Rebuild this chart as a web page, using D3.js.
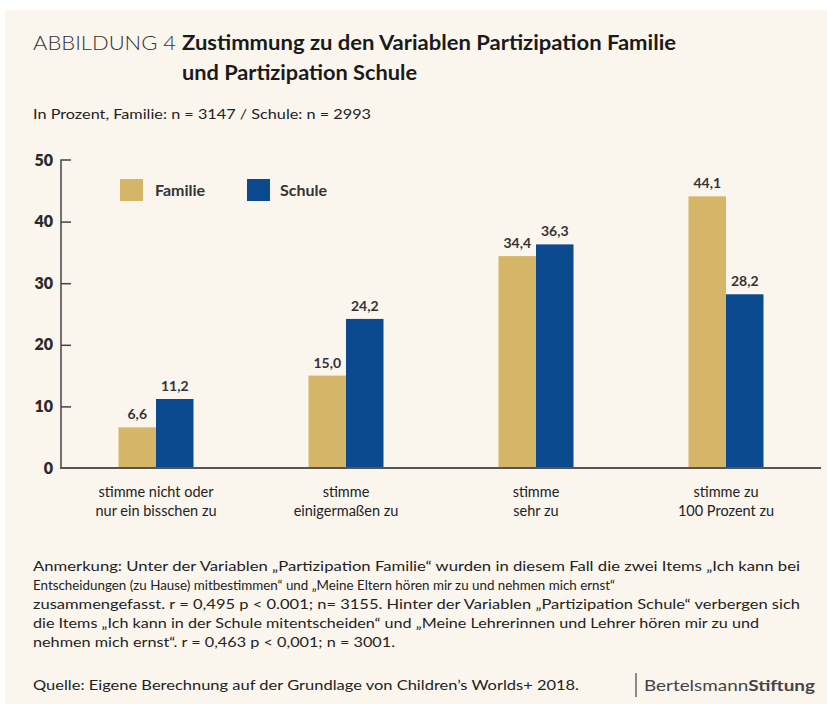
<!DOCTYPE html>
<html>
<head>
<meta charset="utf-8">
<script src="https://cdn.jsdelivr.net/npm/d3@7"></script>
<style>
  body { margin: 0; background: #ffffff; }
  text { font-family: Lato, "Open Sans", sans-serif; fill: #222; }
</style>
</head>
<body>
<div id="chart"></div>
<script>
// data
const categories = [
  ["stimme nicht oder", "nur ein bisschen zu"],
  ["stimme", "einigermaßen zu"],
  ["stimme", "sehr zu"],
  ["stimme zu", "100 Prozent zu"]
];
const seriesNames = ["Familie", "Schule"];
const familie = [6.6, 15.0, 34.4, 44.1];
const schule = [11.2, 24.2, 36.3, 28.2];
const yTicks = [0, 10, 20, 30, 40, 50];

const colors = {Familie: "#d5b668", Schule: "#0b4a8e"};

let width = 827, height = 704;

let svg = d3.select("#chart")
    .append("svg")
    .attr("width", width)
    .attr("height", height);

// cream panel
svg.append("rect")
    .attr("x", 5).attr("y", 10)
    .attr("width", 822).attr("height", 694)
    .attr("fill", "#faf6ee");

// titles
function fitText(x, y, str, len, size, weight, color) {
    return svg.append("text")
        .attr("x", x).attr("y", y)
        .attr("textLength", len)
        .attr("lengthAdjust", "spacingAndGlyphs")
        .style("font-size", size + "px")
        .style("font-weight", weight)
        .style("fill", color || "#222")
        .text(str);
}

fitText(33, 50, "ABBILDUNG 4", 143, 20, 300, "#333");
fitText(182, 50, "Zustimmung zu den Variablen Partizipation Familie", 494, 20.5, 700, "#1a1a1a");
fitText(182, 80, "und Partizipation Schule", 235, 20.5, 700, "#1a1a1a");
fitText(33, 119, "In Prozent, Familie: n = 3147 / Schule: n = 2993", 338, 13.5, 400);

// scales
let x = d3.scaleBand()
    .domain(d3.range(categories.length))
    .range([61, 821]);

let x1 = d3.scaleBand()
    .domain(seriesNames)
    .range([0, 75]);

let y = d3.scaleLinear()
    .domain([0, 50])
    .range([468, 160]);

// y axis
let yAxis = svg.append("g")
    .attr("transform", "translate(61,0)")
    .call(d3.axisRight(y).tickValues(yTicks).tickSize(10).tickFormat(""));
yAxis.select(".domain").attr("d", "M10,160H0V468").attr("stroke", "#444").attr("stroke-width", 1.5);
yAxis.selectAll(".tick line").attr("stroke", "#444").attr("stroke-width", 1.5)
    .filter(d => d === 0 || d === 50).remove();

svg.append("g").selectAll("text")
    .data(yTicks)
    .enter()
    .append("text")
    .attr("x", 53)
    .attr("y", d => y(d) + 5.5)
    .style("text-anchor", "end")
    .style("font-size", "16px")
    .style("font-weight", 800)
    .style("fill", "#2a2a2a")
    .text(d => d);

// bars
let rows = [];
categories.forEach((c, i) => {
    rows.push({cat: i, s: "Familie", v: familie[i]});
    rows.push({cat: i, s: "Schule", v: schule[i]});
});

svg.append("g").selectAll("rect")
    .data(rows)
    .enter()
    .append("rect")
    .attr("x", d => x(d.cat) + (x.bandwidth() - 75) / 2 + x1(d.s))
    .attr("y", d => y(d.v))
    .attr("width", x1.bandwidth())
    .attr("height", d => y(0) - y(d.v))
    .attr("fill", d => colors[d.s]);

svg.append("g").selectAll("text")
    .data(rows)
    .enter()
    .append("text")
    .attr("x", d => x(d.cat) + (x.bandwidth() - 75) / 2 + x1(d.s) + x1.bandwidth() / 2)
    .attr("y", d => y(d.v) - 8)
    .style("text-anchor", "middle")
    .style("font-size", "14px")
    .style("font-weight", 700)
    .style("fill", "#333")
    .text(d => d.v.toFixed(1).replace(".", ","));

// x axis line
svg.append("line")
    .attr("x1", 60).attr("x2", 821)
    .attr("y1", y(0)).attr("y2", y(0))
    .attr("stroke", "#555")
    .attr("stroke-width", 2.2);

// category labels
let catG = svg.append("g").selectAll("text")
    .data(categories)
    .enter()
    .append("text")
    .attr("y", 497)
    .style("text-anchor", "middle")
    .style("font-size", "14.5px")
    .style("fill", "#222");
catG.selectAll("tspan")
    .data((d, i) => d.map(t => ({t: t, i: i})))
    .enter()
    .append("tspan")
    .attr("x", d => x(d.i) + x.bandwidth() / 2)
    .attr("dy", (d, j) => j === 0 ? 0 : 19)
    .text(d => d.t);

// legend
let legend = svg.append("g");
seriesNames.forEach((s, i) => {
    legend.append("rect")
        .attr("x", 120 + i * 127).attr("y", 179)
        .attr("width", 23).attr("height", 22)
        .attr("fill", colors[s]);
    legend.append("text")
        .attr("x", 155 + i * 125).attr("y", 196)
        .style("font-size", "16px")
        .style("font-weight", 700)
        .style("fill", "#333")
        .text(s);
});

// note
const noteLines = [
    ["Anmerkung: Unter der Variablen „Partizipation Familie“ wurden in diesem Fall die zwei Items „Ich kann bei", 767],
    ["Entscheidungen (zu Hause) mitbestimmen“ und „Meine Eltern hören mir zu und nehmen mich ernst“", 582],
    ["zusammengefasst. r = 0,495 p < 0.001; n= 3155. Hinter der Variablen „Partizipation Schule“ verbergen sich", 767],
    ["die Items „Ich kann in der Schule mitentscheiden“ und „Meine Lehrerinnen und Lehrer hören mir zu und", 726],
    ["nehmen mich ernst“. r = 0,463 p < 0,001; n = 3001.", 362]
];
noteLines.forEach((l, i) => fitText(33, 571 + i * 19, l[0], l[1], 14, 400, "#222"));

fitText(33, 690, "Quelle: Eigene Berechnung auf der Grundlage von Children’s Worlds+ 2018.", 546, 14, 400, "#222");

svg.append("line")
    .attr("x1", 636).attr("x2", 636)
    .attr("y1", 673).attr("y2", 697)
    .attr("stroke", "#666").attr("stroke-width", 1.5);
let bs = svg.append("text")
    .attr("x", 644).attr("y", 691)
    .attr("textLength", 171)
    .attr("lengthAdjust", "spacingAndGlyphs")
    .style("font-size", "15px")
    .style("fill", "#444");
bs.append("tspan").text("Bertelsmann");
bs.append("tspan").style("font-weight", 700).text("Stiftung");
</script>
</body>
</html>
